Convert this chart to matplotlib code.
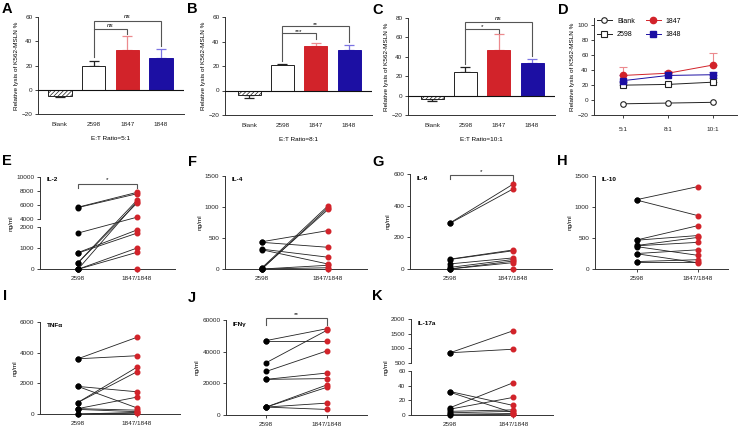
import numpy as np
import matplotlib.pyplot as plt

plt.rcParams['font.family'] = ['Liberation Sans', 'DejaVu Sans']

# ---- data ----
bar_groups = ['Blank', '2598', '1847', '1848']
ratios = ['5:1', '8:1', '10:1']

lysis_5 = [-5, 20, 33, 26]
err_5 = [1, 4, 11, 8]
lysis_8 = [-4, 21, 36, 33]
err_8 = [2, 1, 2.5, 4.5]
lysis_10 = [-3, 24, 47, 34]
err_10 = [3, 6, 16, 4]

pair_labels = ['2598', '1847/1848']

il2_2598 = [5700, 5650, 1700, 780, 760, 300, 300, 0, 0, 0, 0]
il2_1847 = [7800, 7600, 4300, 1850, 1700, 6700, 6300, 6500, 1000, 800, 0]
il4_2598 = [440, 430, 320, 310, 20, 0, 10, 0, 0, 0]
il4_1847 = [620, 350, 190, 80, 1020, 990, 960, 60, 20, 0]
il6_2598 = [290, 288, 62, 60, 32, 10, 0, 0, 0]
il6_1847 = [535, 505, 120, 115, 70, 60, 50, 40, 0]
il10_2598 = [1120, 1110, 470, 465, 380, 375, 360, 250, 245, 120, 120]
il10_1847 = [1330, 860, 700, 540, 510, 430, 220, 310, 100, 150, 120]
tnf_2598 = [3600, 3600, 1800, 1800, 750, 750, 350, 350, 300, 0, 0]
tnf_1847 = [5000, 3800, 1450, 400, 3050, 2750, 1100, 250, 150, 100, 50]
ifn_2598 = [47000, 47000, 33000, 27500, 22500, 22500, 5000, 5000, 5000, 5000]
ifn_1847 = [54500, 47000, 53500, 40500, 26500, 23000, 19000, 17500, 7500, 3500]
il17_2598 = [850, 850, 32, 31, 10, 8, 5, 3, 1, 0]
il17_1847 = [1600, 970, 13, 3, 44, 24, 7, 5, 2, 1]

RED = '#d2232a'
BLUE = '#1c0fa3'
RED_ERR = '#ec8a8e'
BLUE_ERR = '#7c74e2'
AX = '#333333'
FS = 4.6

W, H = 738, 429
fig = plt.figure(figsize=(W / 100, H / 100), dpi=100)


def rect(l, t, r, b):
    return [l / W, 1 - b / H, (r - l) / W, (b - t) / H]


def style(ax):
    for s in ['top', 'right']:
        ax.spines[s].set_visible(False)
    for s in ['left', 'bottom']:
        ax.spines[s].set_linewidth(0.7)
        ax.spines[s].set_color(AX)
    ax.tick_params(direction='out', length=2.5, width=0.6, labelsize=FS,
                   pad=1.5, colors='#222222')
    ax.patch.set_alpha(0)


def bracket(ax, x1, x2, y, y1, y2, txt, dy, italic=False):
    ax.plot([x1, x1, x2, x2], [y1, y, y, y2], color='#555555', lw=0.8,
            clip_on=False, solid_joinstyle='miter')
    ax.text((x1 + x2) / 2, y + dy, txt, ha='center', va='bottom',
            fontsize=FS, style='italic' if italic else 'normal')


def bar_panel(r, vals, errs, ylim, xlabel):
    ax = fig.add_axes(r)
    style(ax)
    x = np.arange(len(bar_groups))
    faces = ['white', 'white', RED, BLUE]
    edges = ['#222222', '#222222', RED, BLUE]
    ecols = ['#222222', '#222222', RED_ERR, BLUE_ERR]
    for i in range(len(x)):
        b = ax.bar(x[i], vals[i], width=0.69, color=faces[i],
                   edgecolor=edges[i], linewidth=0.7, zorder=2)
        if i == 0:
            b[0].set_hatch('////////')
        lo = [[errs[i]], [0]] if vals[i] < 0 else [[0], [errs[i]]]
        ax.errorbar(x[i], vals[i], yerr=lo, color=ecols[i], capsize=3.5,
                    elinewidth=0.9, capthick=0.9, zorder=1)
    ax.axhline(0, color='#111111', lw=0.8, zorder=3)
    ax.set_ylim(*ylim)
    ax.set_xticks(x)
    ax.set_xticklabels(bar_groups)
    ax.tick_params(axis='x', length=0, pad=6)
    ax.set_xlabel(xlabel, fontsize=FS, labelpad=6)
    return ax


plt.rcParams['hatch.linewidth'] = 0.5
plt.rcParams['hatch.color'] = '#222222'

# A
axA = bar_panel(rect(38, 17, 184, 114), lysis_5, err_5, (-20, 60), 'E:T Ratio=5:1')
axA.set_xlim(-0.65, 3.68)
axA.set_yticks([-20, 0, 20, 40, 60])
bracket(axA, 1, 2, 50, 27, 46, 'ns', 1.0, True)
bracket(axA, 1, 3, 57, 50, 36, 'ns', 1.0, True)

# B
axB = bar_panel(rect(225, 17, 372, 115), lysis_8, err_8, (-20, 60), 'E:T Ratio=8:1')
axB.set_xlim(-0.72, 3.69)
axB.set_yticks([-20, 0, 20, 40, 60])
bracket(axB, 1, 2, 46.8, 24, 42, '***', -0.5)
bracket(axB, 1, 3, 52.3, 46.8, 40, '**', -0.5)

# C
axC = bar_panel(rect(408, 18, 555, 115), lysis_10, err_10, (-20, 80), 'E:T Ratio=10:1')
axC.set_xlim(-0.72, 3.69)
axC.set_yticks([-20, 0, 20, 40, 60, 80])
bracket(axC, 1, 2, 68.6, 33, 65, '*', -0.5)
bracket(axC, 1, 3, 75.5, 68.6, 41, 'ns', 1.0, True)

for ax in (axA, axB, axC):
    ax.set_ylabel('Relative lysis of K562-MSLN %', fontsize=FS, labelpad=2)

# D
axD = fig.add_axes(rect(594, 18, 737, 115))
style(axD)
xr = np.arange(len(ratios))
blank_d = [lysis_5[0], lysis_8[0], lysis_10[0]]
s2598_d = [lysis_5[1], lysis_8[1], lysis_10[1]]
s1847_d = [lysis_5[2], lysis_8[2], lysis_10[2]]
s1848_d = [lysis_5[3], lysis_8[3], lysis_10[3]]
e2598_d = [err_5[1], err_8[1], err_10[1]]
e1847_d = [err_5[2], err_8[2], err_10[2]]
e1848_d = [err_5[3], err_8[3], err_10[3]]
axD.errorbar(xr, s1847_d, yerr=[[0] * 3, e1847_d], fmt='none', ecolor=RED_ERR,
             capsize=3, elinewidth=0.8, capthick=0.8)
axD.errorbar(xr, s1848_d, yerr=[[0] * 3, e1848_d], fmt='none', ecolor=BLUE_ERR,
             capsize=3, elinewidth=0.8, capthick=0.8)
axD.errorbar(xr, s2598_d, yerr=[[0] * 3, e2598_d], fmt='none', ecolor='#888888',
             capsize=3, elinewidth=0.8, capthick=0.8)
axD.plot(xr, blank_d, '-o', color='#222222', mfc='white', ms=4, lw=0.7, mew=0.8, label='Blank')
axD.plot(xr, s2598_d, '-s', color='#222222', mfc='white', ms=4, lw=0.7, mew=0.8, label='2598')
axD.plot(xr, s1847_d, '-o', color=RED, ms=4.5, lw=0.7, label='1847')
axD.plot(xr, s1848_d, '-s', color=BLUE, ms=4, lw=0.7, label='1848')
axD.set_xlim(-0.64, 2.53)
axD.set_ylim(-20, 110)
axD.set_yticks([-20, 0, 20, 40, 60, 80, 100])
axD.set_xticks(xr)
axD.set_xticklabels(ratios)
axD.tick_params(axis='x', pad=6)
axD.set_ylabel('Relative lysis of K562-MSLN %', fontsize=FS, labelpad=2)
axD.legend(ncol=2, loc='upper left', bbox_to_anchor=(0.0, 1.03), frameon=False,
           fontsize=FS + 0.4, handlelength=2.2, columnspacing=1.6,
           labelspacing=0.9, borderaxespad=0, handletextpad=0.7)


# paired panels
def brk(xp, fp):
    xp = np.asarray(xp, float)
    fp = np.asarray(fp, float)

    def f(v):
        v = np.asarray(v, float)
        out = np.interp(v, xp, fp)
        out = np.where(v < xp[0], fp[0] + (v - xp[0]) * (fp[1] - fp[0]) / (xp[1] - xp[0]), out)
        out = np.where(v > xp[-1], fp[-1] + (v - xp[-1]) * (fp[-1] - fp[-2]) / (xp[-1] - xp[-2]), out)
        return out
    return f


def pair_panel(r, before, after, ylim, yticks, xlim, name, name_y, scale=None):
    ax = fig.add_axes(r)
    style(ax)
    if scale is not None:
        ax.set_yscale('function', functions=scale)
    for b, a in zip(before, after):
        ax.plot([0, 1], [b, a], color='#222222', lw=0.6, zorder=2, clip_on=False)
    ax.plot(np.zeros(len(before)), before, 'o', color='black', ms=3.3, zorder=3, clip_on=False)
    ax.plot(np.ones(len(after)), after, 'o', color=RED, ms=3.3, zorder=3, clip_on=False)
    ax.set_xlim(*xlim)
    ax.set_ylim(*ylim)
    ax.set_yticks(yticks)
    ax.set_yticklabels([str(t) for t in yticks])
    ax.yaxis.set_minor_locator(plt.NullLocator())
    ax.set_xticks([0, 1])
    ax.set_xticklabels(pair_labels)
    ax.tick_params(axis='x', pad=2.5)
    ax.text(0.05, name_y, name, transform=ax.transAxes,
            fontsize=FS, fontweight='bold', va='top')
    ax.set_ylabel('ng/ml', fontsize=FS, labelpad=2)
    return ax


# E (broken axis)
g_e = 7.4 / 42.6
e_scale = (brk([0, 2000, 4000, 10000], [0, 1, 1 + g_e, 2 + g_e]),
           brk([0, 1, 1 + g_e, 2 + g_e], [0, 2000, 4000, 10000]))
axE = pair_panel(rect(40, 176.7, 175, 269.3), il2_2598, il2_1847, (0, 10000),
                 [0, 1000, 2000, 4000, 6000, 8000, 10000], (-0.64, 1.64),
                 'IL-2', 1.0, e_scale)
axE.spines['left'].set_bounds(0, 2000)
axE.plot([0, 0], [4000, 10000], transform=axE.get_yaxis_transform(),
         color=AX, lw=0.7, clip_on=False)
bracket(axE, 0, 1, 9000, 8400, 8400, '*', 250)

# F
axF = pair_panel(rect(225, 176, 367, 269), il4_2598, il4_1847, (0, 1500),
                 [0, 500, 1000, 1500], (-0.56, 1.59), 'IL-4', 0.99)

# G
axG = pair_panel(rect(410, 174, 552, 269), il6_2598, il6_1847, (0, 600),
                 [0, 200, 400, 600], (-0.63, 1.62), 'IL-6', 0.98)
bracket(axG, 0, 1, 592, 570, 555, '*', 6)

# H
axH = pair_panel(rect(595, 176, 728, 269), il10_2598, il10_1847, (0, 1500),
                 [0, 500, 1000, 1500], (-0.69, 1.49), 'IL-10', 0.99)

# I
axI = pair_panel(rect(40, 322, 180, 414), tnf_2598, tnf_1847, (0, 6000),
                 [0, 2000, 4000, 6000], (-0.64, 1.73), 'TNFα', 0.99)

# J
axJ = pair_panel(rect(226, 320, 367, 415), ifn_2598, ifn_1847, (0, 60000),
                 [0, 20000, 40000, 60000], (-0.66, 1.66), 'IFNγ', 0.98)
bracket(axJ, 0, 1, 61000, 57000, 57000, '**', 600)

# K (broken axis)
g_k = 8 / 44
k_scale = (brk([0, 60, 500, 2000], [0, 1, 1 + g_k, 2 + g_k]),
           brk([0, 1, 1 + g_k, 2 + g_k], [0, 60, 500, 2000]))
axK = pair_panel(rect(411, 319, 553, 415), il17_2598, il17_1847, (0, 2000),
                 [0, 20, 40, 60, 500, 1000, 1500, 2000], (-0.62, 1.63),
                 'IL-17a', 0.98, k_scale)
axK.spines['left'].set_bounds(0, 60)
axK.plot([0, 0], [500, 2000], transform=axK.get_yaxis_transform(),
         color=AX, lw=0.7, clip_on=False)

# panel letters
letters = [('A', 2, 9), ('B', 187, 9), ('C', 372, 10), ('D', 558, 10),
           ('E', 2, 161), ('F', 188, 162), ('G', 372, 162), ('H', 557, 161),
           ('I', 3, 296), ('J', 188, 298), ('K', 372, 296)]
for t, px, py in letters:
    fig.text(px / W, 1 - py / H, t, fontsize=10.5, fontweight='bold', va='center', ha='left')

fig.savefig('out.png', dpi=100)
